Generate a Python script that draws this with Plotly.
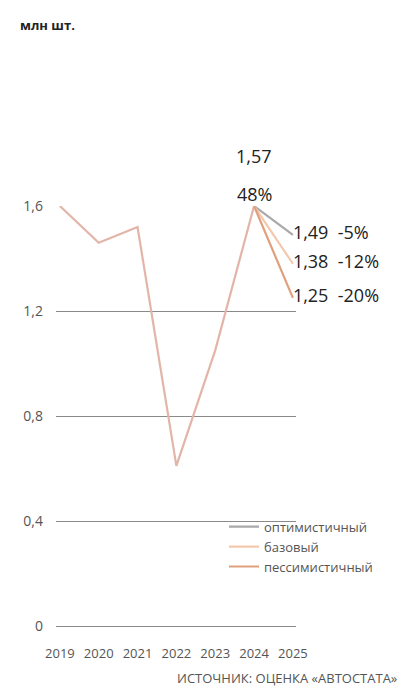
import plotly.graph_objects as go

years = [2019, 2020, 2021, 2022, 2023, 2024]
history = [1.6, 1.46, 1.52, 0.61, 1.05, 1.6]
scen_names = ["оптимистичный", "базовый", "пессимистичный"]
scen_2025 = [1.49, 1.38, 1.25]
scen_labels = ["1,49  -5%", "1,38  -12%", "1,25  -20%"]
scen_colors = ["#a9a9ab", "#f3c9ae", "#e0a07e"]
ytick_vals = [0, 0.4, 0.8, 1.2, 1.6]
ytick_text = ["0", "0,4", "0,8", "1,2", "1,6"]

fig = go.Figure()
fig.add_trace(go.Scatter(x=years, y=history, mode="lines", showlegend=False,
                         line=dict(color="#e2b5a8", width=2.2), hoverinfo="skip"))
for name, v, c, lab in zip(scen_names, scen_2025, scen_colors, scen_labels):
    fig.add_trace(go.Scatter(x=[2024, 2025], y=[history[-1], v], mode="lines+text", name=name,
                             line=dict(color=c, width=2.2),
                             text=["", lab], textposition="middle right",
                             textfont=dict(size=18, color="#222")))

fig.add_annotation(x=2024, y=1.6, text="1,57", showarrow=False, yshift=50,
                   font=dict(size=18, color="#222"))
fig.add_annotation(x=2024, y=1.6, text="48%", showarrow=False, yshift=12,
                   font=dict(size=18, color="#222"))
# title as annotation so it doesn't push the margins
fig.add_annotation(x=-0.16, y=1.45, xref="paper", yref="paper", xanchor="left", yanchor="top",
                   align="left", showarrow=False,
                   text="Прогноз российского<br>рынка новых легковых<br>автомобилей",
                   font=dict(size=27, color="#666"))
fig.add_annotation(x=-0.16, y=1.125, xref="paper", yref="paper", xanchor="left",
                   text="<b>млн шт.</b>", showarrow=False, font=dict(size=13, color="#222"))
fig.add_annotation(x=1.43, y=-0.115, xref="paper", yref="paper", xanchor="right",
                   text="ИСТОЧНИК: ОЦЕНКА «АВТОСТАТА»", showarrow=False,
                   font=dict(size=13, color="#555"))

fig.update_layout(
    width=407, height=692,
    margin=dict(l=48, r=119, t=74, b=74),
    paper_bgcolor="white", plot_bgcolor="white",
    font=dict(family="Open Sans", color="#555"),
    separators=",.",
    legend=dict(x=0.70, y=0.21, xref="paper", yref="paper", xanchor="left", yanchor="top",
                font=dict(size=13, color="#555"), tracegroupgap=4, bgcolor="rgba(0,0,0,0)"),
)
fig.update_xaxes(range=[2018.9, 2025.08], tickvals=years + [2025], showgrid=False,
                 zeroline=False, showline=False, tickfont=dict(size=13, color="#555"),
                 ticks="", ticklabelstandoff=18)
fig.update_yaxes(range=[0, 1.6], domain=[0, 420 / 544], tickvals=ytick_vals, ticktext=ytick_text,
                 showgrid=True, gridcolor="#8a8a8a", gridwidth=1, zeroline=True,
                 zerolinecolor="#8a8a8a", zerolinewidth=1, showline=False,
                 tickfont=dict(size=14, color="#555"), ticks="", ticklabelstandoff=12)
fig.update_traces(cliponaxis=False)

fig.write_html("out.html")
